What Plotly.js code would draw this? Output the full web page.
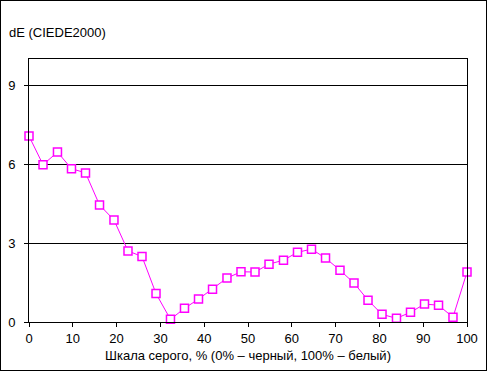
<!DOCTYPE html>
<html>
<head>
<meta charset="utf-8">
<script src="https://cdn.plot.ly/plotly-3.0.1.min.js"></script>
<style>
html,body{margin:0;padding:0;background:#fff;}
#chart{width:487px;height:371px;box-sizing:border-box;border:1px solid #000;overflow:hidden;}
</style>
</head>
<body>
<div id="chart"></div>
<script>
const grayPercent = [0, 3.2, 6.5, 9.7, 12.9, 16.1, 19.4, 22.6, 25.8, 29.0, 32.3, 35.5, 38.7, 41.9, 45.2, 48.4,
  51.6, 54.8, 58.1, 61.3, 64.5, 67.7, 71.0, 74.2, 77.4, 80.6, 83.9, 87.1, 90.3, 93.5, 96.8, 100];
const deltaE = [7.07, 5.98, 6.46, 5.83, 5.67, 4.45, 3.88, 2.70, 2.49, 1.08, 0.10, 0.52, 0.87, 1.25, 1.67, 1.91,
  1.90, 2.20, 2.35, 2.65, 2.77, 2.43, 1.97, 1.48, 0.83, 0.29, 0.14, 0.37, 0.68, 0.64, 0.18, 1.90];
const yTicks = [0, 3, 6, 9];
const xTicks = [0, 10, 20, 30, 40, 50, 60, 70, 80, 90, 100];
const titleText = 'dE (CIEDE2000)';
const xTitleText = 'Шкала серого, % (0% – черный, 100% – белый)';

const font = {family: '"Liberation Sans", Arial, sans-serif', size: 13, color: '#000'};

Plotly.newPlot('chart', [{
  x: grayPercent,
  y: deltaE,
  type: 'scatter',
  mode: 'lines+markers',
  line: {color: '#FF00FF', width: 1},
  marker: {symbol: 'square', size: 8, color: '#FFFFFF', line: {color: '#FF00FF', width: 1.5}},
  cliponaxis: false,
  hoverinfo: 'skip'
}], {
  width: 485, height: 369,
  margin: {l: 28, r: 19, t: 58, b: 48, pad: 0},
  paper_bgcolor: '#fff', plot_bgcolor: '#fff',
  showlegend: false,
  font: font,
  title: {text: titleText, font: {family: font.family, size: 13, color: '#000'},
    xref: 'container', yref: 'container', x: 8/485, xanchor: 'left', y: 1 - 31/369, yanchor: 'middle'},
  xaxis: {
    range: [0, 100], tickvals: xTicks, ticktext: xTicks.map(String),
    showgrid: false, zeroline: false,
    showline: true, linecolor: '#000', linewidth: 1, mirror: true,
    ticks: 'outside', ticklen: 4, tickcolor: '#000', tickwidth: 1,
    tickfont: {family: font.family, size: 13, color: '#000'},
    title: {text: xTitleText, font: {family: font.family, size: 13, color: '#000'}, standoff: 6},
    fixedrange: true
  },
  yaxis: {
    range: [0, 10], tickvals: yTicks, ticktext: yTicks.map(String),
    showgrid: true, gridcolor: '#000', gridwidth: 1, zeroline: false,
    showline: true, linecolor: '#000', linewidth: 1, mirror: true,
    ticks: 'outside', ticklen: 4, tickcolor: '#000', tickwidth: 1,
    tickfont: {family: font.family, size: 13, color: '#000'},
    ticklabelstandoff: 6,
    fixedrange: true
  }
}, {displayModeBar: false, staticPlot: true});
</script>
</body>
</html>
